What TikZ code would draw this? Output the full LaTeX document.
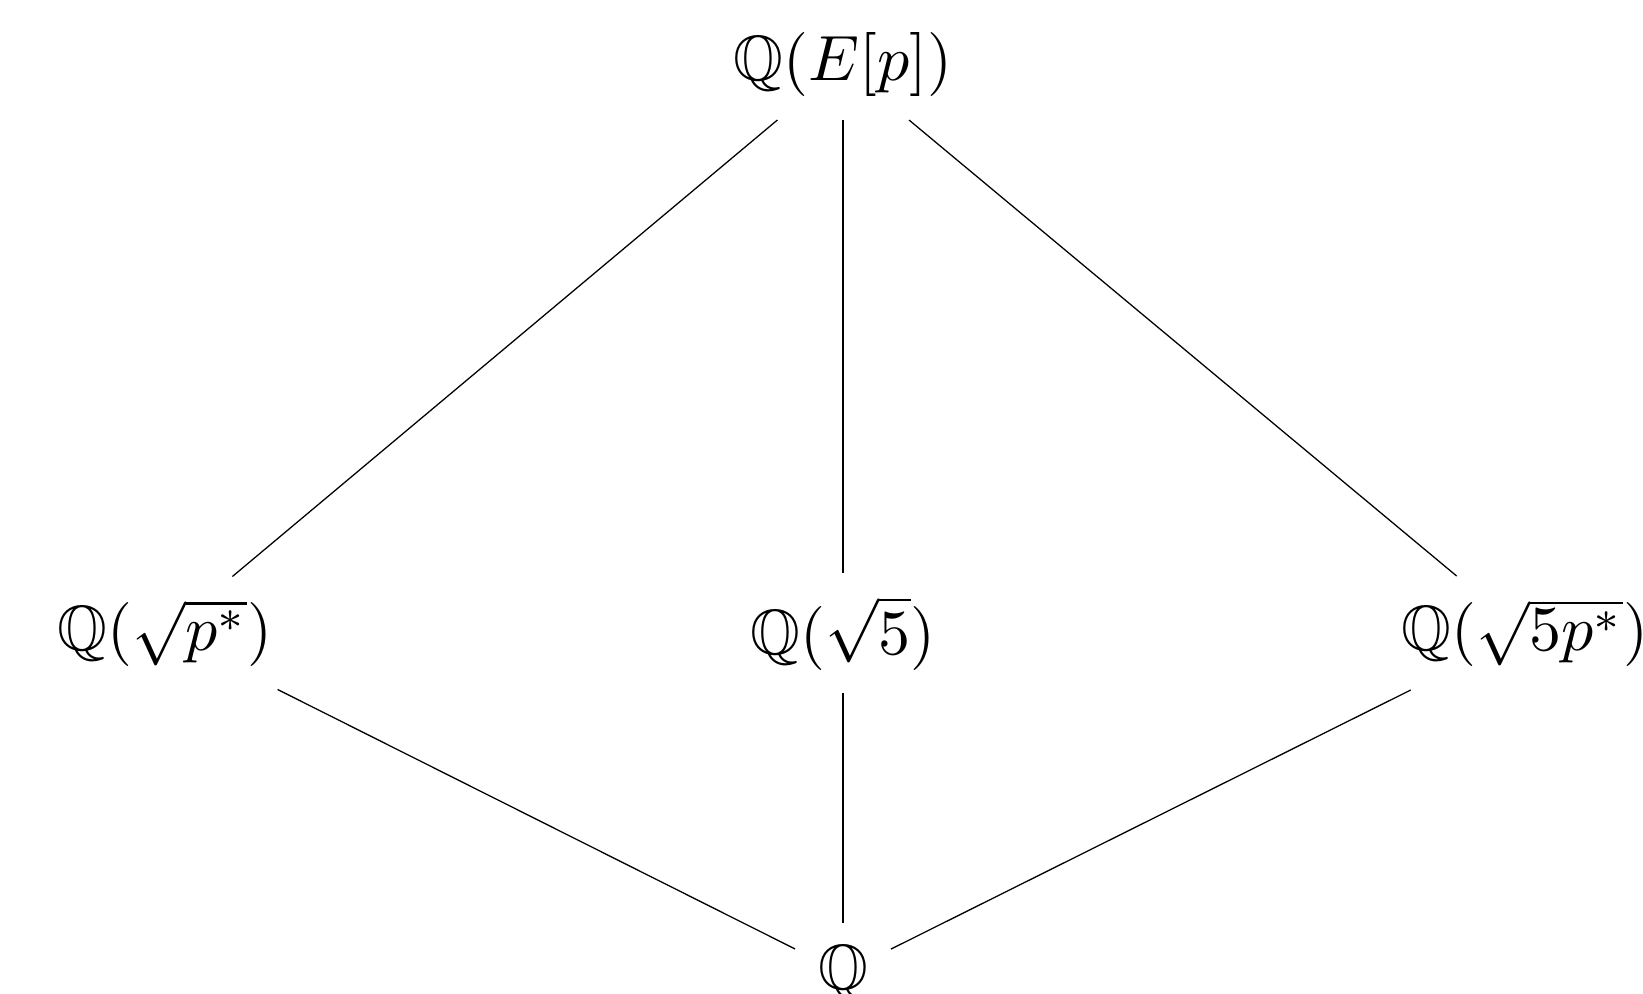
\documentclass[tikz,border=0pt]{standalone}
\usepackage{amssymb}
\begin{document}
\begin{tikzpicture}[x=0.15625pt,y=-0.15625pt,
  fld/.style={inner sep=3.6pt, outer sep=0pt},
  conn/.style={line width=0.2pt}]
\useasboundingbox (0,0) rectangle (1643,994);
\node[fld] (top) at (843,65) {$\mathbb{Q}(E[p])$};
\node[fld] (l) at (165,633) {$\mathbb{Q}(\sqrt{p^*})$};
\node[fld] (m) at (843,633) {$\mathbb{Q}(\sqrt{5})$};
\node[fld] (r) at (1525,633) {$\mathbb{Q}(\sqrt{5p^*})$};
\node[fld] (b) at (843,973) {$\mathbb{Q}$};
\draw[conn] (top) -- (l);
\draw[conn] (top) -- (m);
\draw[conn] (top) -- (r);
\draw[conn] (l) -- (b);
\draw[conn] (m) -- (b);
\draw[conn] (r) -- (b);
\end{tikzpicture}
\end{document}
